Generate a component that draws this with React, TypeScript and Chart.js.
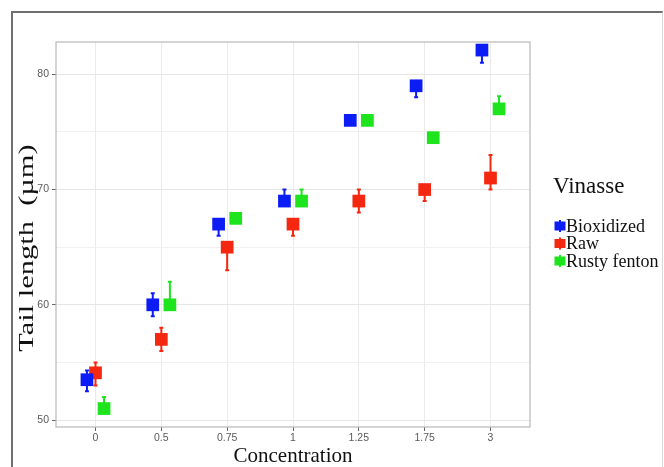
import React, { useEffect, useRef } from 'react';
import { Chart, registerables } from 'chart.js';

Chart.register(...registerables);

// ---- data ----
const categories = ['0', '0.5', '0.75', '1', '1.25', '1.75', '3'];
const yTickValues = [50, 55, 60, 65, 70, 75, 80];

const bioxidized = [53.5, 60, 67, 69, 76, 79, 82.1];
const bioxidizedLow = [52.5, 59, 66, 69, 76, 78, 81];
const bioxidizedHigh = [54.3, 61, 67, 70, 76, 79, 82.1];

const raw = [54.1, 57, 65, 67, 69, 70, 71];
const rawLow = [53, 56, 63, 66, 68, 69, 70];
const rawHigh = [55, 58, 65, 67, 70, 70, 73];

const rustyFenton = [51, 60, 67.5, 69, 76, 74.5, 77];
const rustyFentonLow = [51, 60, 67.5, 69, 76, 74.5, 77];
const rustyFentonHigh = [52, 62, 67.5, 70, 76, 74.5, 78.1];

const seriesNames = ['Bioxidized', 'Raw', 'Rusty fenton'];
const legendTitle = 'Vinasse';
const xTitle = 'Concentration';
const yTitle = 'Tail length  (µm)';

// ---- styles ----
const COLORS = ['#0c1cf4', '#f42810', '#1ee41e'];
const DODGE = [-0.13, 0, 0.13];
const SERIF = "'Liberation Serif', 'Times New Roman', serif";
const SANS = "'Liberation Sans', Arial, sans-serif";

const errorBarPlugin = {
  id: 'errorBars',
  beforeDatasetsDraw(chart: any) {
    const { ctx, chartArea, scales } = chart;
    const x = scales.x;
    const y = scales.y;
    ctx.save();
    ctx.strokeStyle = '#b8b8b8';
    ctx.lineWidth = 1.2;
    ctx.strokeRect(chartArea.left, chartArea.top, chartArea.right - chartArea.left, chartArea.bottom - chartArea.top);
    chart.data.datasets.forEach((ds: any) => {
      ctx.strokeStyle = ds.borderColor;
      ctx.lineWidth = 2;
      ds.data.forEach((p: any, i: number) => {
        const px = x.getPixelForValue(p.x);
        const yl = y.getPixelForValue(ds.errLow[i]);
        const yh = y.getPixelForValue(ds.errHigh[i]);
        if (Math.abs(yl - yh) < 0.5) return;
        ctx.beginPath();
        ctx.moveTo(px, yl);
        ctx.lineTo(px, yh);
        ctx.moveTo(px - 2, yl);
        ctx.lineTo(px + 2, yl);
        ctx.moveTo(px - 2, yh);
        ctx.lineTo(px + 2, yh);
        ctx.stroke();
      });
    });
    ctx.restore();
  },
};

const textPlugin = {
  id: 'customText',
  afterDraw(chart: any) {
    const { ctx, chartArea } = chart;
    ctx.save();
    // y-axis title (stretched along its direction, as in the reference)
    ctx.fillStyle = '#111';
    ctx.font = `21px ${SERIF}`;
    ctx.textAlign = 'center';
    ctx.textBaseline = 'middle';
    ctx.save();
    ctx.translate(27, 248);
    ctx.rotate(-Math.PI / 2);
    ctx.scale(1.45, 1);
    ctx.fillText(yTitle, 0, 0);
    ctx.restore();

    // legend
    ctx.textAlign = 'left';
    ctx.textBaseline = 'alphabetic';
    ctx.font = `23px ${SERIF}`;
    ctx.fillText(legendTitle, 553, 193);
    const startY = 226;
    const step = 17.5;
    chart.data.datasets.forEach((ds: any, i: number) => {
      const cy = startY + i * step;
      const cx = 560;
      ctx.fillStyle = ds.backgroundColor;
      ctx.strokeStyle = ds.borderColor;
      ctx.lineWidth = 2;
      ctx.beginPath();
      ctx.moveTo(cx, cy - 6);
      ctx.lineTo(cx, cy + 6);
      ctx.stroke();
      ctx.fillRect(cx - 5.5, cy - 4.5, 11, 9);
      ctx.fillStyle = '#111';
      ctx.font = `18px ${SERIF}`;
      ctx.textBaseline = 'middle';
      ctx.fillText(ds.label, 566, cy + 1);
    });
    ctx.restore();
  },
};

export default function App() {
  const canvasRef = useRef<HTMLCanvasElement | null>(null);

  useEffect(() => {
    if (!canvasRef.current) return;
    const values = [bioxidized, raw, rustyFenton];
    const lows = [bioxidizedLow, rawLow, rustyFentonLow];
    const highs = [bioxidizedHigh, rawHigh, rustyFentonHigh];
    const datasets = seriesNames.map((name, s) => ({
      label: name,
      data: categories.map((_, i) => ({ x: i + DODGE[s], y: values[s][i] })),
      errLow: lows[s],
      errHigh: highs[s],
      backgroundColor: COLORS[s],
      borderColor: COLORS[s],
      borderWidth: 0,
      pointStyle: 'rect',
      pointRadius: 9,
      pointHoverRadius: 9,
      showLine: false,
    }));

    const chart = new Chart(canvasRef.current, {
      type: 'scatter',
      data: { datasets: datasets as any },
      plugins: [errorBarPlugin, textPlugin],
      options: {
        animation: false,
        responsive: false,
        devicePixelRatio: 1,
        layout: { padding: { top: 42, right: 134, bottom: 0, left: 0 } },
        plugins: {
          legend: { display: false },
          tooltip: { enabled: false },
        },
        scales: {
          x: {
            type: 'linear',
            min: -0.6,
            max: 6.6,
            afterBuildTicks: (scale: any) => {
              scale.ticks = categories.map((_, i) => ({ value: i }));
            },
            afterFit: (scale: any) => {
              scale.height = 40;
            },
            ticks: {
              autoSkip: false,
              maxRotation: 0,
              padding: 1,
              color: '#5a5a5a',
              font: { family: SANS, size: 10.5 },
              callback: (v: any) => categories[Math.round(Number(v))] ?? '',
            },
            grid: {
              color: '#ebebeb',
              lineWidth: 1,
              tickLength: 4,
              tickColor: '#666',
            },
            border: { display: false },
            title: {
              display: true,
              text: xTitle,
              color: '#111',
              font: { family: SERIF, size: 21, lineHeight: 1 },
              padding: { top: 0, bottom: 0 },
            },
          },
          y: {
            type: 'linear',
            min: 49.4,
            max: 82.8,
            afterBuildTicks: (scale: any) => {
              scale.ticks = yTickValues.map((v) => ({ value: v }));
            },
            afterFit: (scale: any) => {
              scale.width = 56;
            },
            ticks: {
              padding: 3,
              color: '#5a5a5a',
              font: { family: SANS, size: 10.5 },
              callback: (v: any) => (Number(v) % 10 === 0 ? String(v) : ''),
            },
            grid: {
              color: (c: any) => (c.tick && c.tick.value % 10 === 0 ? '#e6e6e6' : '#f1f1f1'),
              lineWidth: 1,
              tickLength: 4,
              tickColor: (c: any) => (c.tick && c.tick.value % 10 === 0 ? '#666' : 'rgba(0,0,0,0)'),
            },
            border: { display: false },
            title: { display: false },
          },
        },
      } as any,
    });
    return () => chart.destroy();
  }, []);

  return (
    <div style={{ position: 'fixed', left: 0, top: 0, width: 664, height: 467, overflow: 'hidden', background: '#fff' }}>
      <div
        style={{
          position: 'absolute',
          left: 11,
          top: 11,
          width: 652,
          height: 500,
          borderTop: '2px solid #707070',
          borderLeft: '2px solid #707070',
          borderRight: '1px solid #d8d8d8',
          boxSizing: 'border-box',
        }}
      />
      <canvas
        ref={canvasRef}
        width={664}
        height={467}
        style={{ position: 'absolute', left: 0, top: 0, width: 664, height: 467 }}
      />
    </div>
  );
}
